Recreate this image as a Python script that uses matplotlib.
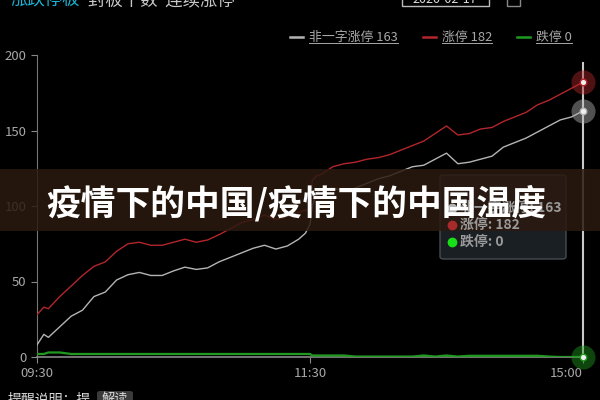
import matplotlib
matplotlib.use('Agg')
import matplotlib.pyplot as plt
from matplotlib.lines import Line2D
from matplotlib.patches import Rectangle, FancyBboxPatch

plt.rcParams['font.family'] = ['Noto Sans CJK SC', 'DejaVu Sans']

# 交易分钟（09:30 起，午休合并）
minutes = [0, 3, 5, 10, 15, 20, 25, 30, 35, 40, 45, 50, 55, 60, 65, 70, 75, 80, 85,
           90, 95, 100, 105, 110, 115, 118, 120, 121, 123, 125, 130, 135, 140, 145,
           150, 155, 160, 165, 170, 175, 180, 185, 190, 195, 200, 205, 210, 215,
           220, 225, 230, 235, 240]
# 非一字涨停
feiyizi = [8, 15, 13, 20, 27, 31, 40, 43, 51, 54.5, 56, 54, 54, 57, 59.5, 58, 59, 63, 66,
           69, 72, 74, 71.5, 73.5, 78, 82, 88, 100, 109, 111, 112, 110, 112, 115,
           118, 120, 123, 126, 127, 131, 135, 128, 129, 131, 133, 139, 142, 145,
           149, 153, 157, 159, 163]
# 涨停
zhangting = [28, 33, 32, 40, 47, 54, 60, 63, 70, 75, 76, 74, 74, 76, 78, 76, 77.5, 81, 85,
             89, 91, 94, 91, 93, 96, 97, 98, 117, 120, 121, 126, 128, 129, 131,
             132, 134, 137, 140, 143, 148, 153, 147, 148, 151, 152, 156, 159, 162,
             167, 170, 174, 178, 182]
# 跌停
dieting = [2, 2, 3, 3, 2, 2, 2, 2, 2, 2, 2, 2, 2, 2, 2, 2, 2, 2, 2,
           2, 2, 2, 2, 2, 2, 2, 2, 1, 1, 1, 1, 1, 0.3, 0.3,
           0.3, 0.3, 0.3, 0.3, 1, 0.3, 1, 0.3, 0.8, 0.8, 0.8, 0.8, 0.8, 0.8,
           0.8, 0.3, 0, 0, 0]

xtick_pos = [0, 120, 240]
xtick_labels = ['09:30', '11:30', '15:00']
ytick_pos = [0, 50, 100, 150, 200]

c_gray = '#b4b4b4'
c_red = '#b3262b'
c_green = '#1f9a1f'
c_text = '#a8a8a8'

fig = plt.figure(figsize=(6, 4), dpi=100, facecolor='black')
ax = fig.add_axes([37/600, 43/400, 546/600, 302/400])
ax.set_facecolor('black')

ax.plot(minutes, dieting, color=c_green, lw=1.6, zorder=3)
ax.plot(minutes, zhangting, color=c_red, lw=1.0, zorder=4)
ax.plot(minutes, feiyizi, color=c_gray, lw=1.0, zorder=4)

ax.set_xlim(0, 240)
ax.set_ylim(0, 200)
for s in ['top', 'right']:
    ax.spines[s].set_visible(False)
ax.spines['left'].set_color('#777777')
ax.spines['bottom'].set_color('#888888')
ax.spines['bottom'].set_linewidth(1.2)
ax.set_xticks(xtick_pos)
ax.set_xticklabels(xtick_labels)
ax.set_yticks(ytick_pos)
ax.tick_params(colors='#888888', labelcolor=c_text, labelsize=9.5, length=4)
ax.get_xticklabels()[-1].set_ha('right')
ax.get_xticklabels()[-1].set_x(240)

# 十字线和末端点
ax.plot([240, 240], [0, 195], color='#c8c8c8', lw=1.5, zorder=5, clip_on=False)
ends = [(feiyizi[-1], c_gray), (zhangting[-1], c_red), (dieting[-1], c_green)]
for v, c in ends:
    ax.scatter([240], [v], s=300, color=c, alpha=0.45, lw=0, zorder=6, clip_on=False)
    ax.scatter([240], [v], s=22, facecolor='#f0f0f0', edgecolor=c, lw=1, zorder=7, clip_on=False)

# 图例
H = 400.0
legend_items = [('非一字涨停 163', c_gray, 290), ('涨停 182', c_red, 423), ('跌停 0', c_green, 517)]
leg_texts = []
for lab, c, x0 in legend_items:
    fig.add_artist(Line2D([x0/600, (x0+13)/600], [1-37/H, 1-37/H], color=c, lw=1.8))
    t = fig.text((x0+19)/600, 1-37/H, lab, color=c_text, fontsize=9.3, va='center', ha='left')
    leg_texts.append(t)

# 顶部被截断的标题
fig.text(10/600, 1-5/H, '涨跌停板', color='#19b6d6', fontsize=12.5, va='baseline', ha='left')
fig.text(88/600, 1-5/H, '封板个数  连续涨停', color='#c8c8c8', fontsize=12.5, va='baseline', ha='left')
fig.add_artist(Rectangle((402/600, 1-6/H), 87/600, 10/H, fill=False, ec='#bbbbbb', lw=1))
fig.text(412/600, 1-3/H, '2020-02-17', color='#dddddd', fontsize=9, va='baseline', ha='left')
fig.add_artist(Rectangle((507/600, 1-6/H), 13/600, 10/H, fill=False, ec='#888888', lw=1))

# 底部被截断的说明
fig.text(8/600, 1-393/H, '提醒说明：提', color='#dddddd', fontsize=10, va='top', ha='left')
fig.add_artist(FancyBboxPatch((97/600, -6/H), 36/600, 15/H, boxstyle='round,pad=0,rounding_size=0.005',
                              fc='#3a3a3a', ec='none'))
fig.text(115/600, 1-393/H, '解读', color='#dddddd', fontsize=9.5, va='top', ha='center')

# 提示框
fig.add_artist(FancyBboxPatch((440/600, 1-259/H), 126/600, 84/H,
                              boxstyle='round,pad=0,rounding_size=0.006',
                              fc='#1c2127', ec='#4a4f55', lw=1, alpha=0.95))
tip_rows = [('非一字涨停: 163', c_gray, 208), ('涨停: 182', '#a82a2a', 225), ('跌停: 0', '#18e018', 242)]
for lab, c, y in tip_rows:
    fig.add_artist(Line2D([452/600], [1-y/H], marker='o', ms=6, color=c, lw=0))
    fig.text(460/600, 1-y/H, lab, color='#9a9a9a', fontsize=10, fontweight='bold', va='center', ha='left')

# 横幅
fig.add_artist(Rectangle((0, 1-231/H), 1, 62/H, fc='#2b1a0f', ec='none', alpha=0.85))
fig.text(296/600, 1-203/H, '疫情下的中国/疫情下的中国温度', color='white', fontsize=25,
         fontweight='black', va='center', ha='center')

# 图例文字下划线
fig.canvas.draw()
r = fig.canvas.get_renderer()
for t in leg_texts:
    bb = t.get_window_extent(r)
    fig.add_artist(Line2D([bb.x0/600, bb.x1/600], [(bb.y0+1)/400, (bb.y0+1)/400], color=c_text, lw=0.7))

fig.savefig('out.png', dpi=100, facecolor='black')
